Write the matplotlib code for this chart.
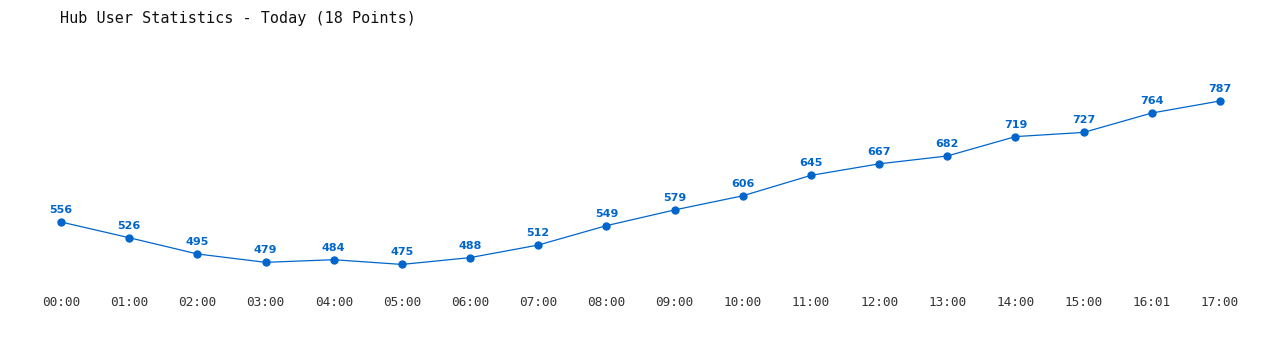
import matplotlib
matplotlib.use("Agg")
import matplotlib.pyplot as plt

labels = ["00:00", "01:00", "02:00", "03:00", "04:00", "05:00", "06:00", "07:00", "08:00",
          "09:00", "10:00", "11:00", "12:00", "13:00", "14:00", "15:00", "16:01", "17:00"]
values = [556, 526, 495, 479, 484, 475, 488, 512, 549, 579, 606, 645, 667, 682, 719, 727, 764, 787]
title = "Hub User Statistics - Today (18 Points)"

color = "#0066cc"
W, H = 1280, 350
fig = plt.figure(figsize=(W / 100, H / 100), dpi=100)
fig.patch.set_facecolor("white")

left, right = 61, 1220
top_px, bot_px = 60, 290
ax = fig.add_axes([left / W, 1 - bot_px / H, (right - left) / W, (bot_px - top_px) / H])
ax.set_facecolor("white")

xs = list(range(len(values)))
ax.plot(xs, values, color=color, linewidth=0.9, marker="o", markersize=5,
        markerfacecolor=color, markeredgecolor=color, zorder=3)
for x, v in zip(xs, values):
    ax.annotate(str(v), (x, v), xytext=(0, 5), textcoords="offset points",
                ha="center", va="bottom", fontsize=8, fontweight="bold",
                color=color, family="DejaVu Sans")

ax.set_xlim(0, len(values) - 1)
ax.set_ylim(426.2, 865.2)
ax.set_xticks(xs)
ax.set_xticklabels(labels, family="DejaVu Sans Mono", fontsize=9.2, color="#333333")
ax.tick_params(axis="x", length=0, pad=4)
ax.set_yticks([])
for s in ax.spines.values():
    s.set_visible(False)
for line in ax.lines:
    line.set_clip_on(False)

fig.text(60 / W, 1 - 18 / H, title, ha="left", va="center",
         family="DejaVu Sans Mono", fontsize=10.9, color="#111111")

fig.savefig("out.png", dpi=100, facecolor="white")
